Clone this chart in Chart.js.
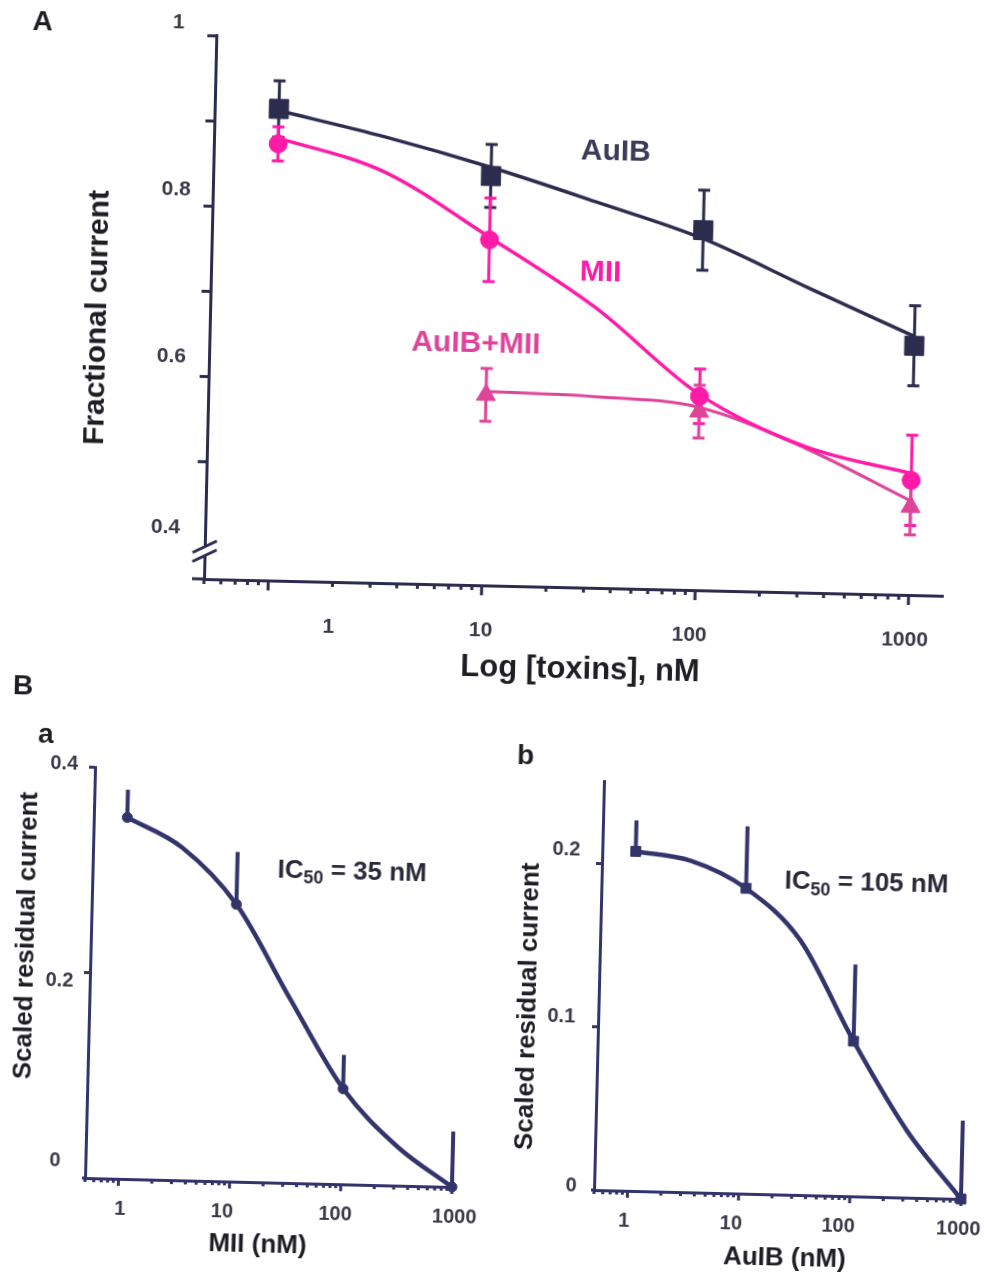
<!DOCTYPE html>
<html lang="en">
<head>
<meta charset="utf-8">
<title>Fractional current and scaled residual current vs toxin concentration</title>
<script src="https://cdn.jsdelivr.net/npm/chart.js@4.4.1/dist/chart.umd.min.js"></script>
<style>
  html, body { margin: 0; padding: 0; background: #fff; }
  #page { position: relative; width: 984px; height: 1272px; overflow: hidden; }
  #page canvas { position: absolute; }
  /* the scanned figure sits a little turned, so each panel turns about its axis corner */
  #chartA  { left: 0;     top: 0;     transform-origin: 204px 579px; transform: rotate(1.3deg); }
  #chartBa { left: 0;     top: 660px; transform-origin: 85px 518px;  transform: rotate(1.4deg); }
  #chartBb { left: 492px; top: 660px; transform-origin: 102px 530px; transform: rotate(1.4deg); }
</style>
</head>
<body>
<div id="page">
  <canvas id="chartA" width="984" height="700"></canvas>
  <canvas id="chartBa" width="492" height="612"></canvas>
  <canvas id="chartBb" width="492" height="612"></canvas>
</div>
<script>
// Panel A - fractional current (mean and SEM)
const concA = [1, 10, 100, 1000];
const auibA = [0.916, 0.843, 0.785, 0.655];
const auibErrA = [0.033, 0.037, 0.047, 0.047];
const miiA = [0.875, 0.768, 0.590, 0.497];
const miiErrA = [0.020, 0.049, 0.032, 0.053];
const concCombo = [10, 100, 1000];
const comboA = [0.586, 0.572, 0.466];
const comboErrA = [0.031, 0.031, 0.033];

// Panel B - scaled residual current (mean and SEM, upper bar only)
const concB = [1, 10, 100, 1000];
const miiB = [0.352, 0.270, 0.093, 0];
const miiErrB = [0.027, 0.051, 0.033, 0.054];
const auibB = [0.208, 0.187, 0.095, 0];
const auibErrB = [0.019, 0.038, 0.047, 0.048];

// fitted curves at whole and half decades
const fitConc = [1, 3.16, 10, 31.6, 100, 316, 1000];
const auibFitA = [0.914, 0.886, 0.853, 0.815, 0.775, 0.720, 0.666];
const miiFitA = [0.882, 0.845, 0.771, 0.692, 0.592, 0.534, 0.505];
const fitConcCombo = [10, 31.6, 100, 316, 1000];
const comboFitA = [0.590, 0.587, 0.577, 0.532, 0.473];
const miiFitB = [0.352, 0.324, 0.270, 0.180, 0.093, 0.038, 0];
const auibFitB = [0.208, 0.203, 0.187, 0.156, 0.095, 0.041, 0];

// tick labels and tick marks
const xTickValues = [1, 10, 100, 1000];
const xTickLabels = ['1', '10', '100', '1000'];
const yTicksA = [0.4, 0.6, 0.8, 1];
const yLabelsA = ['0.4', '0.6', '0.8', '1'];
const yMarksA = [0.5, 0.6, 0.7, 0.8, 0.9, 1];
const yTicksBa = [0, 0.2, 0.4];
const yLabelsBa = ['0', '0.2', '0.4'];
const yMarksBa = [0.2, 0.4];
const yTicksBb = [0, 0.1, 0.2];
const yLabelsBb = ['0', '0.1', '0.2'];
const yMarksBb = [0.1, 0.2];

const FONT = '"Liberation Sans", Arial, sans-serif';
const NAVY = '#2c2c4e';
const BLUE = '#34346c';
const PINK = '#ff1aa8';
const ROSE = '#e0449a';
const INK = '#1e1e24';
const GREY = '#3a3a48';

Chart.defaults.font.family = FONT;

const pts = (xs, ys) => xs.map((v, i) => ({ x: v, y: ys[i] }));

// minor/major marks on a log axis (1..9 of each decade)
function logMarks(min, max) {
  const out = [];
  for (let d = 0.1; d < 10000; d *= 10) {
    for (let k = 1; k <= 9; k++) {
      const v = k * d;
      if (v >= min * 0.999 && v <= max) out.push({ v, major: k === 1 && d >= 1 });
    }
  }
  return out;
}

// per panel decoration: tick marks, tick labels, titles and notes
const decor = {
  chartA: {
    axis: NAVY, tickW: 3, majorLen: 10, minorLen: 5, yTickLen: 9, overshoot: 12, brk: 0.395,
    yMarks: yMarksA,
    xFont: 'bold 21px ' + FONT, xDy: 45, xNudge: [61, 0, -5, -3],
    yFont: 'bold 21px ' + FONT, yTicks: yTicksA, yLabels: yLabelsA,
    yDx: [-25, -23, -22, -32], yDy: [-19, -19, -15.5, -13],
    texts: [
      { t: 'A', x: 30, y: 26, font: 'bold 28px', color: INK },
      { t: 'Fractional current', x: 92, y: 320, rot: true, font: 'bold 30px', color: INK },
      { t: 'Log [toxins], nM', x: 582, y: 661, font: 'bold 31px', color: INK },
      { t: 'AuIB', xv: 38.2, yv: 0.874, font: 'bold 30px', color: '#3c3c5a' },
      { t: 'MII', xv: 33.4, yv: 0.733, font: 'bold 30px', color: PINK },
      { t: 'AuIB+MII', xv: 8.86, yv: 0.646, font: 'bold 30px', color: ROSE }
    ]
  },
  chartBa: {
    axis: BLUE, tickW: 3, majorLen: 7, minorLen: 4, yTickLen: 6, overshoot: 3,
    yMarks: yMarksBa,
    xFont: 'bold 20px ' + FONT, xDy: 30, xNudge: [2, -7, -5, 3],
    yFont: 'bold 20px ' + FONT, yTicks: yTicksBa, yLabels: yLabelsBa,
    yDx: [-25, -16.5, -17], yDy: [-17, 9, -2.5],
    texts: [
      { t: 'B', x: 11, y: 28, font: 'bold 28px', color: INK },
      { t: 'a', x: 35, y: 76, font: 'bold 28px', color: INK },
      { t: 'Scaled residual current', x: 21, y: 277, rot: true, font: 'bold 26px', color: INK },
      { t: 'MII (nM)', x: 259, y: 581, font: 'bold 26px', color: INK },
      { ic: ' = 35 nM', xv: 108, yv: 0.306, size: 26, color: '#2a2a3a' }
    ]
  },
  chartBb: {
    axis: BLUE, tickW: 3, majorLen: 7, minorLen: 4, yTickLen: 6, overshoot: 3,
    yMarks: yMarksBb,
    xFont: 'bold 20px ' + FONT, xDy: 30.5, xNudge: [-3, -7, -11, -2],
    yFont: 'bold 20px ' + FONT, yTicks: yTicksBb, yLabels: yLabelsBb,
    yDx: [-17.5, -23, -22], yDy: [-3.5, -9, -13],
    texts: [
      { t: 'b', x: 23, y: 98, font: 'bold 28px', color: INK },
      { t: 'Scaled residual current', x: 31.5, y: 348, rot: true, font: 'bold 26px', color: INK },
      { t: 'AuIB (nM)', x: 294, y: 594, font: 'bold 26px', color: INK },
      { ic: ' = 105 nM', xv: 120.7, yv: 0.193, size: 26, color: '#2a2a3a' }
    ]
  }
};

function line(ctx, x1, y1, x2, y2) {
  ctx.beginPath();
  ctx.moveTo(x1, y1);
  ctx.lineTo(x2, y2);
  ctx.stroke();
}

function drawIC(ctx, cx, cy, rest, size) {
  const big = `bold ${size}px ${FONT}`;
  const small = `bold ${Math.round(size * 0.68)}px ${FONT}`;
  ctx.font = big;
  const w1 = ctx.measureText('IC').width;
  const w3 = ctx.measureText(rest).width;
  ctx.font = small;
  const w2 = ctx.measureText('50').width;
  let sx = cx - (w1 + w2 + w3) / 2;
  const base = cy + size * 0.36;
  ctx.textAlign = 'left';
  ctx.textBaseline = 'alphabetic';
  ctx.font = big;
  ctx.fillText('IC', sx, base);
  sx += w1;
  ctx.font = small;
  ctx.fillText('50', sx, base + size * 0.2);
  sx += w2;
  ctx.font = big;
  ctx.fillText(rest, sx, base);
}

const decorPlugin = {
  id: 'decor',
  beforeDatasetsDraw(chart) {
    const { ctx, scales: { x, y } } = chart;
    chart.data.datasets.forEach(ds => {
      if (!ds.errors) return;
      ctx.save();
      ctx.strokeStyle = ds.borderColor;
      ctx.lineWidth = ds.errWidth;
      ds.data.forEach((p, i) => {
        const px = x.getPixelForValue(p.x);
        const top = y.getPixelForValue(p.y + ds.errors[i]);
        const bottom = y.getPixelForValue(ds.errUpOnly ? p.y : p.y - ds.errors[i]);
        line(ctx, px, bottom, px, top);
        if (ds.errCap) {
          line(ctx, px - ds.errCap, top, px + ds.errCap, top);
          if (!ds.errUpOnly) line(ctx, px - ds.errCap, bottom, px + ds.errCap, bottom);
        }
      });
      ctx.restore();
    });
  },
  afterDraw(chart) {
    const cfg = decor[chart.canvas.id];
    const { ctx, scales: { x, y } } = chart;
    ctx.save();
    ctx.strokeStyle = cfg.axis;
    ctx.lineWidth = cfg.tickW;

    // tick marks
    logMarks(x.min, x.max).forEach(m => {
      const px = x.getPixelForValue(m.v);
      line(ctx, px, y.bottom, px, y.bottom + (m.major ? cfg.majorLen : cfg.minorLen));
    });
    cfg.yMarks.forEach(v => {
      const py = y.getPixelForValue(v);
      line(ctx, x.left, py, x.left - cfg.yTickLen, py);
    });
    if (cfg.overshoot) line(ctx, x.left - cfg.overshoot, y.bottom, x.left, y.bottom);

    // axis break
    if (cfg.brk) {
      const py = y.getPixelForValue(cfg.brk);
      ctx.fillStyle = '#fff';
      ctx.fillRect(x.left - 4, py - 4.5, 8, 9);
      line(ctx, x.left - 12, py + 1.5, x.left + 12, py - 10.5);
      line(ctx, x.left - 12, py + 10.5, x.left + 12, py - 1.5);
    }

    // tick labels
    ctx.fillStyle = GREY;
    ctx.textBaseline = 'middle';
    ctx.textAlign = 'center';
    ctx.font = cfg.xFont;
    xTickValues.forEach((v, i) => {
      ctx.fillText(xTickLabels[i], x.getPixelForValue(v) + cfg.xNudge[i], y.bottom + cfg.xDy);
    });
    ctx.textAlign = 'right';
    ctx.font = cfg.yFont;
    cfg.yTicks.forEach((v, i) => {
      ctx.fillText(cfg.yLabels[i], x.left + cfg.yDx[i], y.getPixelForValue(v) + cfg.yDy[i]);
    });

    // titles, panel letters and notes
    cfg.texts.forEach(t => {
      const px = t.xv !== undefined ? x.getPixelForValue(t.xv) : t.x;
      const py = t.yv !== undefined ? y.getPixelForValue(t.yv) : t.y;
      ctx.fillStyle = t.color;
      if (t.ic) {
        drawIC(ctx, px, py, t.ic, t.size);
        return;
      }
      ctx.font = t.font + ' ' + FONT;
      ctx.textAlign = 'center';
      ctx.textBaseline = 'middle';
      ctx.save();
      ctx.translate(px, py);
      if (t.rot) ctx.rotate(-Math.PI / 2);
      ctx.fillText(t.t, 0, 0);
      ctx.restore();
    });
    ctx.restore();
  }
};

function axisOptions(xMin, xMax, yMin, yMax, yWidth, xHeight, color) {
  return {
    x: {
      type: 'logarithmic', min: xMin, max: xMax,
      grid: { display: false }, ticks: { display: false },
      border: { display: true, color: color, width: 3 },
      afterFit: s => { s.height = xHeight; }
    },
    y: {
      min: yMin, max: yMax,
      grid: { display: false }, ticks: { display: false },
      border: { display: true, color: color, width: 3 },
      afterFit: s => { s.width = yWidth; }
    }
  };
}

// measured points: markers only, error bars from the plugin
function markers(label, xs, ys, errs, color, style, radius, extra) {
  return Object.assign({
    label, data: pts(xs, ys), errors: errs, showLine: false,
    borderColor: color, backgroundColor: color,
    pointStyle: style, pointRadius: radius, pointBackgroundColor: color, pointBorderColor: color,
    clip: false
  }, extra);
}

// fitted curve: a smooth line, no markers
function fitLine(label, xs, ys, color, width) {
  return {
    label, data: pts(xs, ys), borderColor: color, borderWidth: width,
    pointRadius: 0, cubicInterpolationMode: 'monotone', clip: false
  };
}

const common = {
  responsive: false,
  animation: false,
  events: [],
  plugins: { legend: { display: false }, tooltip: { enabled: false } }
};

// Panel A
new Chart(document.getElementById('chartA'), {
  type: 'line',
  data: {
    datasets: [
      markers('AuIB', concA, auibA, auibErrA, NAVY, 'rect', 13.5, { errWidth: 3, errCap: 6 }),
      markers('MII', concA, miiA, miiErrA, PINK, 'circle', 9, { errWidth: 3, errCap: 6 }),
      markers('AuIB+MII', concCombo, comboA, comboErrA, ROSE, 'triangle', 11, { errWidth: 3, errCap: 6 }),
      fitLine('AuIB fit', fitConc, auibFitA, NAVY, 3.5),
      fitLine('MII fit', fitConc, miiFitA, PINK, 3.5),
      fitLine('AuIB+MII fit', fitConcCombo, comboFitA, ROSE, 3)
    ]
  },
  options: {
    ...common,
    layout: { padding: { top: 35.8, right: 40.8, left: 0, bottom: 0 } },
    scales: axisOptions(0.5, 1450, 0.3624, 1, 204, 121, NAVY)
  },
  plugins: [decorPlugin]
});

// Panel B a - MII
new Chart(document.getElementById('chartBa'), {
  type: 'line',
  data: {
    datasets: [
      markers('MII', concB, miiB, miiErrB, BLUE, 'circle', 5, { errWidth: 4, errUpOnly: true }),
      fitLine('MII fit', fitConc, miiFitB, BLUE, 4.5)
    ]
  },
  options: {
    ...common,
    layout: { padding: { top: 107.2, right: 37.6, left: 0, bottom: 0 } },
    scales: axisOptions(0.5, 1050, 0, 0.4, 85, 94, BLUE)
  },
  plugins: [decorPlugin]
});

// Panel B b - AuIB
new Chart(document.getElementById('chartBb'), {
  type: 'line',
  data: {
    datasets: [
      markers('AuIB', concB, auibB, auibErrB, BLUE, 'rect', 7, { errWidth: 4, errUpOnly: true }),
      fitLine('AuIB fit', fitConc, auibFitB, BLUE, 4.5)
    ]
  },
  options: {
    ...common,
    layout: { padding: { top: 121.9, right: 20.6, left: 0, bottom: 0 } },
    scales: axisOptions(0.5, 1050, 0, 0.25, 102, 82, BLUE)
  },
  plugins: [decorPlugin]
});
</script>
</body>
</html>
